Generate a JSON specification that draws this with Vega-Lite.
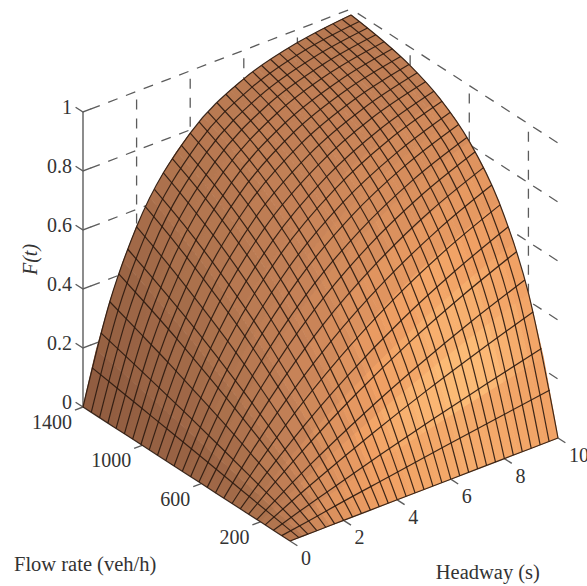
{"$schema":"https://vega.github.io/schema/vega-lite/v6.json","width":587,"height":586,"padding":0,"autosize":{"type":"none"},"background":"white","config":{"view":{"stroke":null}},
"datasets":{
"cells":[
{"t":0,"a":[0,0,0,0,0,0,0,0,0,0,0,0,0,0,0],"b":[0,14,27,41,54,67,80,93,105,118,130,142,154,165,177],"s":[35,31,26,21,18,15,12,10,9,7,6,5,4,3]},
{"t":0.5,"a":[0,14,27,41,54,67,80,93,105,118,130,142,154,165,177],"b":[0,27,54,80,105,130,154,177,199,221,243,263,283,303,322],"s":[46,41,36,31,26,22,19,17,15,13,11,10,9,8]},
{"t":1,"a":[0,27,54,80,105,130,154,177,199,221,243,263,283,303,322],"b":[0,41,80,118,154,188,221,253,283,313,341,368,393,418,442],"s":[55,50,44,38,33,29,26,23,20,18,16,15,13,12]},
{"t":1.5,"a":[0,41,80,118,154,188,221,253,283,313,341,368,393,418,442],"b":[0,54,105,154,199,243,283,322,359,393,426,457,487,514,541],"s":[62,57,51,45,40,35,32,29,26,23,21,20,18,17]},
{"t":2,"a":[0,54,105,154,199,243,283,322,359,393,426,457,487,514,541],"b":[0,67,130,188,243,293,341,385,426,465,501,534,565,595,622],"s":[67,62,56,50,45,40,37,34,31,28,26,25,23,22]},
{"t":2.5,"a":[0,67,130,188,243,293,341,385,426,465,501,534,565,595,622],"b":[0,80,154,221,283,341,393,442,487,528,565,600,632,662,689],"s":[70,66,61,55,50,45,42,39,36,33,31,30,28,27]},
{"t":3,"a":[0,80,154,221,283,341,393,442,487,528,565,600,632,662,689],"b":[0,93,177,253,322,385,442,494,541,583,622,657,689,718,744],"s":[73,70,64,58,53,48,45,42,39,36,34,33,31,30]},
{"t":3.5,"a":[0,93,177,253,322,385,442,494,541,583,622,657,689,718,744],"b":[0,105,199,283,359,426,487,541,589,632,671,705,736,764,789],"s":[75,75,68,61,56,51,48,45,42,39,37,36,34,33]},
{"t":4,"a":[0,105,199,283,359,426,487,541,589,632,671,705,736,764,789],"b":[0,118,221,313,393,465,528,583,632,675,713,747,777,803,826],"s":[77,80,71,64,59,54,50,47,45,42,40,39,37,36]},
{"t":4.5,"a":[0,118,221,313,393,465,528,583,632,675,713,747,777,803,826],"b":[0,130,243,341,426,501,565,622,671,713,751,783,811,836,857],"s":[79,85,75,68,62,57,53,50,48,45,43,42,40,38]},
{"t":5,"a":[0,130,243,341,426,501,565,622,671,713,751,783,811,836,857],"b":[0,142,263,368,457,534,600,657,705,747,783,814,840,863,882],"s":[81,89,79,71,64,58,55,52,49,46,44,43,41,39]},
{"t":5.5,"a":[0,142,263,368,457,534,600,657,705,747,783,814,840,863,882],"b":[0,154,283,393,487,565,632,689,736,777,811,840,865,885,903],"s":[82,92,81,73,65,59,56,53,50,47,45,44,41,39]},
{"t":6,"a":[0,154,283,393,487,565,632,689,736,777,811,840,865,885,903],"b":[0,165,303,418,514,595,662,718,764,803,836,863,885,904,920],"s":[83,94,85,76,67,60,57,54,50,47,45,44,42,40]},
{"t":6.5,"a":[0,165,303,418,514,595,662,718,764,803,836,863,885,904,920],"b":[0,177,322,442,541,622,689,744,789,826,857,882,903,920,934],"s":[85,97,88,79,68,62,58,56,52,48,46,45,42,40]},
{"t":7,"a":[0,177,322,442,541,622,689,744,789,826,857,882,903,920,934],"b":[0,188,341,465,565,647,713,767,811,847,875,899,918,933,946],"s":[84,98,89,80,69,62,59,56,52,48,46,45,42,40]},
{"t":7.5,"a":[0,188,341,465,565,647,713,767,811,847,875,899,918,933,946],"b":[0,199,359,487,589,671,736,789,831,865,892,913,931,944,955],"s":[83,98,89,79,69,62,59,56,52,48,46,44,41,39]},
{"t":8,"a":[0,199,359,487,589,671,736,789,831,865,892,913,931,944,955],"b":[0,210,376,508,611,693,757,808,849,881,906,925,941,954,963],"s":[82,96,87,78,69,63,59,56,52,48,45,43,40,38]},
{"t":8.5,"a":[0,210,376,508,611,693,757,808,849,881,906,925,941,954,963],"b":[0,221,393,528,632,713,777,826,865,895,918,936,950,961,970],"s":[80,90,83,75,68,63,59,56,51,47,44,42,39,37]},
{"t":9,"a":[0,221,393,528,632,713,777,826,865,895,918,936,950,961,970],"b":[0,232,410,547,652,733,795,842,879,907,929,945,958,968,975],"s":[79,85,80,74,69,64,59,56,51,46,44,41,39,37]},
{"t":9.5,"a":[0,232,410,547,652,733,795,842,879,907,929,945,958,968,975],"b":[0,243,426,565,671,751,811,857,892,918,938,953,964,973,980],"s":[78,80,77,72,68,64,59,56,50,46,43,41,38,36]}
],
"tLines":[
{"t":0,"P":[0,0,0,0,0,0,0,0]},
{"t":0.3333,"P":[0,18,36,54,71,88,105,122]},
{"t":0.6667,"P":[0,36,71,105,138,169,199,228]},
{"t":1,"P":[0,54,105,154,199,243,283,322]},
{"t":1.3333,"P":[0,71,138,199,256,310,359,405]},
{"t":1.6667,"P":[0,88,169,243,310,371,426,477]},
{"t":2,"P":[0,105,199,283,359,426,487,541]},
{"t":2.3333,"P":[0,122,228,322,405,477,541,597]},
{"t":2.6667,"P":[0,138,256,359,447,523,589,645]},
{"t":3,"P":[0,154,283,393,487,565,632,689]},
{"t":3.3333,"P":[0,169,310,426,523,604,671,726]},
{"t":3.6667,"P":[0,184,335,457,558,639,705,760]},
{"t":4,"P":[0,199,359,487,589,671,736,789]},
{"t":4.3333,"P":[0,214,382,514,618,700,764,815]},
{"t":4.6667,"P":[0,228,405,541,645,726,789,837]},
{"t":5,"P":[0,243,426,565,671,751,811,857]},
{"t":5.3333,"P":[0,256,447,589,694,773,831,874]},
{"t":5.6667,"P":[0,270,467,611,716,793,849,890]},
{"t":6,"P":[0,283,487,632,736,811,865,903]},
{"t":6.3333,"P":[0,297,505,652,755,828,879,915]},
{"t":6.6667,"P":[0,310,523,671,773,843,892,925]},
{"t":7,"P":[0,322,541,689,789,857,903,934]},
{"t":7.3333,"P":[0,335,558,705,804,870,913,942]},
{"t":7.6667,"P":[0,347,573,721,818,881,922,949]},
{"t":8,"P":[0,359,589,736,831,892,931,955]},
{"t":8.3333,"P":[0,371,604,751,843,901,938,961]},
{"t":8.6667,"P":[0,382,618,764,854,910,944,966]},
{"t":9,"P":[0,393,632,777,865,918,950,970]},
{"t":9.3333,"P":[0,405,645,789,874,925,955,973]},
{"t":9.6667,"P":[0,416,658,800,883,932,960,977]},
{"t":10,"P":[0,426,671,811,892,938,964,980]}
],
"qLines":[
{"q":0,"P":[0,0,0,0,0,0,0]},
{"q":56,"P":[0,15,31,60,89,117,144]},
{"q":112,"P":[0,31,60,117,170,220,267]},
{"q":168,"P":[0,46,89,170,244,311,373]},
{"q":224,"P":[0,60,117,220,311,392,463]},
{"q":280,"P":[0,75,144,267,373,463,541]},
{"q":336,"P":[0,89,170,311,429,526,607]},
{"q":392,"P":[0,103,196,353,480,582,663]},
{"q":448,"P":[0,117,220,392,526,631,712]},
{"q":504,"P":[0,131,244,429,568,674,753]},
{"q":560,"P":[0,144,267,463,607,712,789]},
{"q":616,"P":[0,157,290,496,642,746,819]},
{"q":672,"P":[0,170,311,526,674,775,845]},
{"q":728,"P":[0,183,333,555,703,801,868]},
{"q":784,"P":[0,196,353,582,729,825,887]},
{"q":840,"P":[0,208,373,607,753,845,903]},
{"q":896,"P":[0,220,392,631,775,864,917]},
{"q":952,"P":[0,232,411,653,795,879,929]},
{"q":1008,"P":[0,244,429,674,813,893,939]},
{"q":1064,"P":[0,256,447,693,830,906,948]},
{"q":1120,"P":[0,267,463,712,845,917,956]},
{"q":1176,"P":[0,279,480,729,859,927,962]},
{"q":1232,"P":[0,290,496,746,872,935,967]},
{"q":1288,"P":[0,301,511,761,883,943,972]},
{"q":1344,"P":[0,311,526,775,893,950,976]},
{"q":1400,"P":[0,322,541,789,903,956,980]}
],
"walls":[
{"id":"l2","t":[0,10],"q":[1400,1400],"P":[200,200],"o":[0,1]},
{"id":"l4","t":[0,10],"q":[1400,1400],"P":[400,400],"o":[0,1]},
{"id":"l6","t":[0,10],"q":[1400,1400],"P":[600,600],"o":[0,1]},
{"id":"l8","t":[0,10],"q":[1400,1400],"P":[800,800],"o":[0,1]},
{"id":"l10","t":[0,10],"q":[1400,1400],"P":[1000,1000],"o":[0,1]},
{"id":"r2","t":[10,10],"q":[1400,0],"P":[200,200],"o":[0,1]},
{"id":"r4","t":[10,10],"q":[1400,0],"P":[400,400],"o":[0,1]},
{"id":"r6","t":[10,10],"q":[1400,0],"P":[600,600],"o":[0,1]},
{"id":"r8","t":[10,10],"q":[1400,0],"P":[800,800],"o":[0,1]},
{"id":"r10","t":[10,10],"q":[1400,0],"P":[1000,1000],"o":[0,1]},
{"id":"vt2","t":[2,2],"q":[1400,1400],"P":[1000,0],"o":[0,1]},
{"id":"vt4","t":[4,4],"q":[1400,1400],"P":[1000,0],"o":[0,1]},
{"id":"vt6","t":[6,6],"q":[1400,1400],"P":[1000,0],"o":[0,1]},
{"id":"vt8","t":[8,8],"q":[1400,1400],"P":[1000,0],"o":[0,1]},
{"id":"vq1000","t":[10,10],"q":[1000,1000],"P":[1000,0],"o":[0,1]},
{"id":"vq600","t":[10,10],"q":[600,600],"P":[1000,0],"o":[0,1]},
{"id":"vq200","t":[10,10],"q":[200,200],"P":[1000,0],"o":[0,1]}
],
"ticks":[
{"id":"f0","t":[0,0,0.3],"q":[1450,1400,1400],"P":[0,0,0],"o":[0,1,2]},
{"id":"f2","t":[0,0,0.3],"q":[1450,1400,1400],"P":[200,200,200],"o":[0,1,2]},
{"id":"f4","t":[0,0,0.3],"q":[1450,1400,1400],"P":[400,400,400],"o":[0,1,2]},
{"id":"f6","t":[0,0,0.3],"q":[1450,1400,1400],"P":[600,600,600],"o":[0,1,2]},
{"id":"f8","t":[0,0,0.3],"q":[1450,1400,1400],"P":[800,800,800],"o":[0,1,2]},
{"id":"f10","t":[0,0,0.3],"q":[1450,1400,1400],"P":[1000,1000,1000],"o":[0,1,2]},
{"id":"t0","t":[0,0],"q":[0,-50],"P":[0,0],"o":[0,1]},
{"id":"t2","t":[2,2],"q":[0,-50],"P":[0,0],"o":[0,1]},
{"id":"t4","t":[4,4],"q":[0,-50],"P":[0,0],"o":[0,1]},
{"id":"t6","t":[6,6],"q":[0,-50],"P":[0,0],"o":[0,1]},
{"id":"t8","t":[8,8],"q":[0,-50],"P":[0,0],"o":[0,1]},
{"id":"t10","t":[10,10],"q":[0,-50],"P":[0,0],"o":[0,1]},
{"id":"q200","t":[0,-0.3],"q":[200,200],"P":[0,0],"o":[0,1]},
{"id":"q600","t":[0,-0.3],"q":[600,600],"P":[0,0],"o":[0,1]},
{"id":"q1000","t":[0,-0.3],"q":[1000,1000],"P":[0,0],"o":[0,1]},
{"id":"q1400","t":[0,-0.3],"q":[1400,1400],"P":[0,0],"o":[0,1]},
{"id":"axis","t":[0,0],"q":[1400,1400],"P":[0,1000],"o":[0,1]}
]
},
"encoding":{
"x":{"field":"px","type":"quantitative","scale":{"domain":[0,587],"nice":false,"zero":false},"axis":null},
"y":{"field":"py","type":"quantitative","scale":{"domain":[586,0],"nice":false,"zero":false},"axis":null}
},
"layer":[
{"data":{"name":"walls"},
"transform":[{"flatten":["t","q","P","o"]},{"calculate":"290+26.8*datum.t-0.14786*datum.q","as":"px"},{"calculate":"541-10.3*datum.t-0.0957*datum.q-0.295*datum.P","as":"py"}],
"mark":{"type":"line","stroke":"#5c5c5c","strokeWidth":1.3,"strokeDash":[10,9],"strokeDashOffset":-8,"clip":false},
"encoding":{"detail":{"field":"id"},"order":{"field":"o","type":"quantitative"}}},
{"data":{"name":"ticks"},
"transform":[{"flatten":["t","q","P","o"]},{"calculate":"290+26.8*datum.t-0.14786*datum.q","as":"px"},{"calculate":"541-10.3*datum.t-0.0957*datum.q-0.295*datum.P","as":"py"}],
"mark":{"type":"line","stroke":"#5c5c5c","strokeWidth":1.4,"clip":false},
"encoding":{"detail":{"field":"id"},"order":{"field":"o","type":"quantitative"}}},
{"data":{"name":"cells"},
"transform":[
{"calculate":"[0,100,200,300,400,500,600,700,800,900,1000,1100,1200,1300,1400]","as":"q"},
{"flatten":["q","a","b","s"]},
{"window":[{"op":"lead","field":"a","as":"d"},{"op":"lead","field":"b","as":"c"}],"groupby":["t"],"sort":[{"field":"q","order":"ascending"}]},
{"filter":"datum.s!=null"},
{"fold":["a","b","c","d"]},
{"calculate":"datum.t+'_'+datum.q","as":"cell"},
{"calculate":"290+26.8*(datum.t+((datum.key=='b'||datum.key=='c')?0.5:0))-0.14786*(datum.q+((datum.key=='c'||datum.key=='d')?100:0))","as":"px"},
{"calculate":"541-10.3*(datum.t+((datum.key=='b'||datum.key=='c')?0.5:0))-0.0957*(datum.q+((datum.key=='c'||datum.key=='d')?100:0))-0.295*datum.value","as":"py"}
],
"mark":{"type":"line","filled":true,"strokeWidth":1,"clip":false},
"encoding":{
"detail":{"field":"cell"},
"order":{"field":"key","type":"ordinal"},
"fill":{"field":"s","type":"quantitative","scale":{"domain":[0,25,50,75,100],"range":["#8e5b3f","#aa704c","#c78358","#f0a064","#fdbd78"]},"legend":null},
"stroke":{"field":"s","type":"quantitative","scale":{"domain":[0,25,50,75,100],"range":["#8e5b3f","#aa704c","#c78358","#f0a064","#fdbd78"]},"legend":null}
}},
{"data":{"name":"tLines"},
"transform":[{"calculate":"[0,200,400,600,800,1000,1200,1400]","as":"q"},{"flatten":["q","P"]},{"calculate":"290+26.8*datum.t-0.14786*datum.q","as":"px"},{"calculate":"541-10.3*datum.t-0.0957*datum.q-0.295*datum.P","as":"py"}],
"mark":{"type":"line","interpolate":"monotone","stroke":"#2b1a10","strokeWidth":1.2,"strokeOpacity":0.9,"clip":false},
"encoding":{"detail":{"field":"t"},"order":{"field":"q","type":"quantitative"}}},
{"data":{"name":"qLines"},
"transform":[{"calculate":"[0,1,2,4,6,8,10]","as":"t"},{"flatten":["t","P"]},{"calculate":"290+26.8*datum.t-0.14786*datum.q","as":"px"},{"calculate":"541-10.3*datum.t-0.0957*datum.q-0.295*datum.P","as":"py"}],
"mark":{"type":"line","interpolate":"monotone","stroke":"#2b1a10","strokeWidth":1.2,"strokeOpacity":0.9,"clip":false},
"encoding":{"detail":{"field":"q"},"order":{"field":"t","type":"quantitative"}}},
{"data":{"values":[{"l":"0","P":0},{"l":"0.2","P":200},{"l":"0.4","P":400},{"l":"0.6","P":600},{"l":"0.8","P":800},{"l":"1","P":1000}]},
"transform":[{"calculate":"83","as":"px"},{"calculate":"407-0.295*datum.P","as":"py"}],
"mark":{"type":"text","font":"Liberation Serif","fontSize":20,"align":"right","baseline":"middle","dx":-11,"dy":-4,"fill":"#333333","clip":false},
"encoding":{"text":{"field":"l"}}},
{"data":{"values":[{"q":200},{"q":600},{"q":1000},{"q":1400}]},
"transform":[{"calculate":"290-0.14786*datum.q","as":"px"},{"calculate":"541-0.0957*datum.q","as":"py"}],
"mark":{"type":"text","font":"Liberation Serif","fontSize":20,"align":"right","baseline":"middle","dx":-11,"dy":16,"fill":"#333333","clip":false},
"encoding":{"text":{"field":"q"}}},
{"data":{"values":[{"t":0},{"t":2},{"t":4},{"t":6},{"t":8},{"t":10}]},
"transform":[{"calculate":"290+26.8*datum.t","as":"px"},{"calculate":"541-10.3*datum.t","as":"py"}],
"mark":{"type":"text","font":"Liberation Serif","fontSize":20,"align":"left","baseline":"middle","dx":11,"dy":18,"fill":"#333333","clip":false},
"encoding":{"text":{"field":"t"}}},
{"data":{"values":[{"l":"Flow rate (veh/h)","q":1400}]},
"transform":[{"calculate":"290-0.14786*datum.q","as":"px"},{"calculate":"541-0.0957*datum.q","as":"py"}],
"mark":{"type":"text","font":"Liberation Serif","fontSize":20.5,"align":"left","baseline":"middle","dx":-69,"dy":158,"fill":"#333333","clip":false},
"encoding":{"text":{"field":"l"}}},
{"data":{"values":[{"l":"Headway (s)","t":6}]},
"transform":[{"calculate":"290+26.8*datum.t","as":"px"},{"calculate":"541-10.3*datum.t","as":"py"}],
"mark":{"type":"text","font":"Liberation Serif","fontSize":20.5,"align":"center","baseline":"middle","dx":37,"dy":94,"fill":"#333333","clip":false},
"encoding":{"text":{"field":"l"}}},
{"data":{"values":[{"l":"F(t)","P":500}]},
"transform":[{"calculate":"83","as":"px"},{"calculate":"407-0.295*datum.P","as":"py"}],
"mark":{"type":"text","font":"Liberation Serif","fontSize":20,"fontStyle":"italic","align":"center","baseline":"middle","angle":270,"dy":-52,"fill":"#333333","clip":false},
"encoding":{"text":{"field":"l"}}}
]}
